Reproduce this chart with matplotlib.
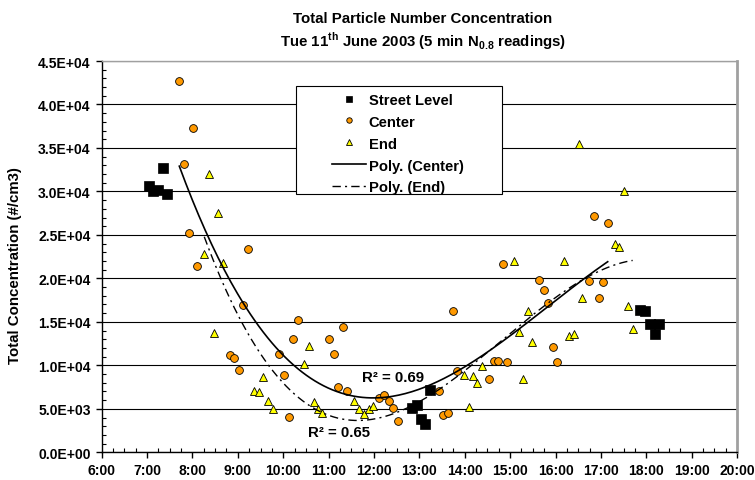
import numpy as np
import matplotlib
matplotlib.use('Agg')
import matplotlib.pyplot as plt
from matplotlib.ticker import MultipleLocator, FuncFormatter
from matplotlib.patches import Rectangle

plt.rcParams['font.family'] = ['Liberation Sans', 'DejaVu Sans']
plt.rcParams['font.weight'] = 'bold'
plt.rcParams['mathtext.fontset'] = 'custom'
plt.rcParams['mathtext.rm'] = 'Liberation Sans:bold'
plt.rcParams['mathtext.bf'] = 'Liberation Sans:bold'

# ---- data (time in decimal hours, concentration in #/cm3) ----
street_t = [7.04, 7.14, 7.25, 7.34, 7.43, 12.83, 12.94, 13.03, 13.12, 13.23,
            17.87, 17.98, 18.08, 18.19, 18.28]
street_y = [30600, 30100, 30200, 32650, 29750, 5100, 5450, 3850, 3250, 7200,
            16350, 16200, 14700, 13600, 14700]

center_t = [7.71, 7.82, 7.92, 8.02, 8.11, 8.82, 8.91, 9.02, 9.12, 9.22,
            9.91, 10.02, 10.12, 10.21, 10.32, 11.01, 11.12, 11.21, 11.32, 11.41,
            12.12, 12.23, 12.33, 12.42, 12.53, 13.43, 13.53, 13.64, 13.74, 13.84,
            14.54, 14.64, 14.74, 14.84, 14.93, 15.64, 15.74, 15.84, 15.94, 16.04,
            16.74, 16.84, 16.95, 17.04, 17.15]
center_y = [42700, 33200, 25200, 37300, 21400, 11200, 10800, 9500, 16900, 23400,
            11300, 8900, 4100, 13000, 15200, 13000, 11300, 7500, 14400, 7000,
            6200, 6600, 5900, 5100, 3600, 7000, 4300, 4500, 16200, 9400,
            8450, 10450, 10450, 21650, 10350, 19850, 18700, 17200, 12100, 10350,
            19650, 27200, 17750, 19550, 26400]

end_t = [8.26, 8.36, 8.47, 8.57, 8.67, 9.36, 9.47, 9.56, 9.67, 9.77,
         10.46, 10.57, 10.67, 10.76, 10.86, 11.56, 11.66, 11.77, 11.88, 11.98,
         13.99, 14.09, 14.19, 14.28, 14.38, 15.09, 15.19, 15.29, 15.39, 15.49,
         16.19, 16.30, 16.40, 16.51, 16.59, 17.31, 17.39, 17.51, 17.60, 17.70]
end_y = [22800, 32000, 13750, 27500, 21800, 7050, 6900, 8700, 5850, 4950,
         10150, 12250, 5750, 4950, 4500, 5900, 4950, 4450, 4950, 5300,
         8900, 5250, 8800, 7950, 9900, 22000, 13850, 8450, 16250, 12700,
         22000, 13400, 13600, 35400, 17750, 23950, 23600, 30000, 16850, 14200]

x_ticks = list(range(6, 21))
poly_order = 3

fig = plt.figure(figsize=(7.55, 4.81), dpi=100)
ax = fig.add_axes([0.1347, 0.0576, 0.8415, 0.8135])

ax.set_xlim(6, 20)
ax.set_ylim(0, 45000)

ax.plot(street_t, street_y, linestyle='none', marker='s', ms=6.8,
        mfc='black', mec='black', mew=0.5, zorder=3, label='Street Level')
ax.plot(center_t, center_y, linestyle='none', marker='o', ms=5.6,
        mfc='#FF9900', mec='black', mew=0.6, zorder=3, label='Center')
ax.plot(end_t, end_y, linestyle='none', marker='^', ms=6.0,
        mfc='#FFFF00', mec='black', mew=0.6, zorder=3, label='End')

# polynomial trendlines fitted to the series
ct = np.array(center_t); cy = np.array(center_y)
cc = np.polyfit(ct, cy, poly_order)
xs = np.linspace(ct.min(), ct.max(), 200)
ax.plot(xs, np.polyval(cc, xs), color='black', lw=1.2, zorder=4,
        label='Poly. (Center)')

et = np.array(end_t); ey = np.array(end_y)
ec = np.polyfit(et, ey, poly_order)
xe = np.linspace(et.min(), et.max(), 200)
ax.plot(xe, np.polyval(ec, xe), color='black', lw=1.0, zorder=4,
        dashes=(6, 3, 1.5, 3), label='Poly. (End)')

# axes styling
ax.yaxis.grid(True, which='major', color='black', lw=0.8)
ax.set_axisbelow(True)
for s in ['top', 'right']:
    ax.spines[s].set_color('#A0A0A0')
ax.spines['top'].set_linewidth(1.0)
ax.spines['right'].set_linewidth(2.0)
ax.spines['left'].set_linewidth(1.0)
ax.spines['bottom'].set_linewidth(1.0)

ax.set_xticks(x_ticks)
ax.xaxis.set_major_formatter(FuncFormatter(lambda v, p: f"{int(round(v))}:00"))
ax.xaxis.set_minor_locator(MultipleLocator(0.25))
ax.yaxis.set_major_locator(MultipleLocator(5000))
ax.yaxis.set_minor_locator(MultipleLocator(1000))
ax.yaxis.set_major_formatter(FuncFormatter(lambda v, p: f"{v:.1E}"))
ax.tick_params(axis='both', which='major', direction='out', length=4, width=1,
               labelsize=10, pad=4)
ax.tick_params(axis='both', which='minor', direction='in', length=3, width=0.8)
ax.tick_params(axis='x', which='major', pad=4)
for lab in ax.get_xticklabels() + ax.get_yticklabels():
    lab.set_fontweight('bold')

# titles and axis label
fig.text(423/755, 1-19/481, 'Total Particle Number Concentration',
         ha='center', va='center', fontsize=10.8, fontweight='bold')
fig.text(423/755, 1-41/481,
         r'Tue 11$^{\mathbf{th}}$ June 2003 (5 min N$_{\mathbf{0.8}}$ readings)',
         ha='center', va='center', fontsize=10.8, fontweight='bold')
fig.text(15/755, 1-266/481, 'Total Concentration (#/cm3)', rotation=90,
         ha='center', va='center', fontsize=10.8, fontweight='bold')

# R^2 labels
ax.text(0.4585, 0.1924, 'R² = 0.69', transform=ax.transAxes, ha='center',
        va='center', fontsize=10.8, fontweight='bold', zorder=5)
ax.text(0.3735, 0.0519, 'R² = 0.65', transform=ax.transAxes, ha='center',
        va='center', fontsize=10.8, fontweight='bold', zorder=5)

# legend box
box = Rectangle((0.3058, 0.660), 0.324, 0.276, transform=ax.transAxes,
                facecolor='white', edgecolor='black', lw=0.8, zorder=6)
ax.add_patch(box)
leg = ax.legend(loc='upper left', bbox_to_anchor=(0.3625, 0.919), frameon=False,
                fontsize=10.6, handlelength=2.3, handletextpad=0.2,
                labelspacing=0.54, markerscale=0.7, borderaxespad=0,
                borderpad=0)
leg.set_zorder(7)
for t in leg.get_texts():
    t.set_fontweight('bold')

fig.savefig('out.png', dpi=100)
